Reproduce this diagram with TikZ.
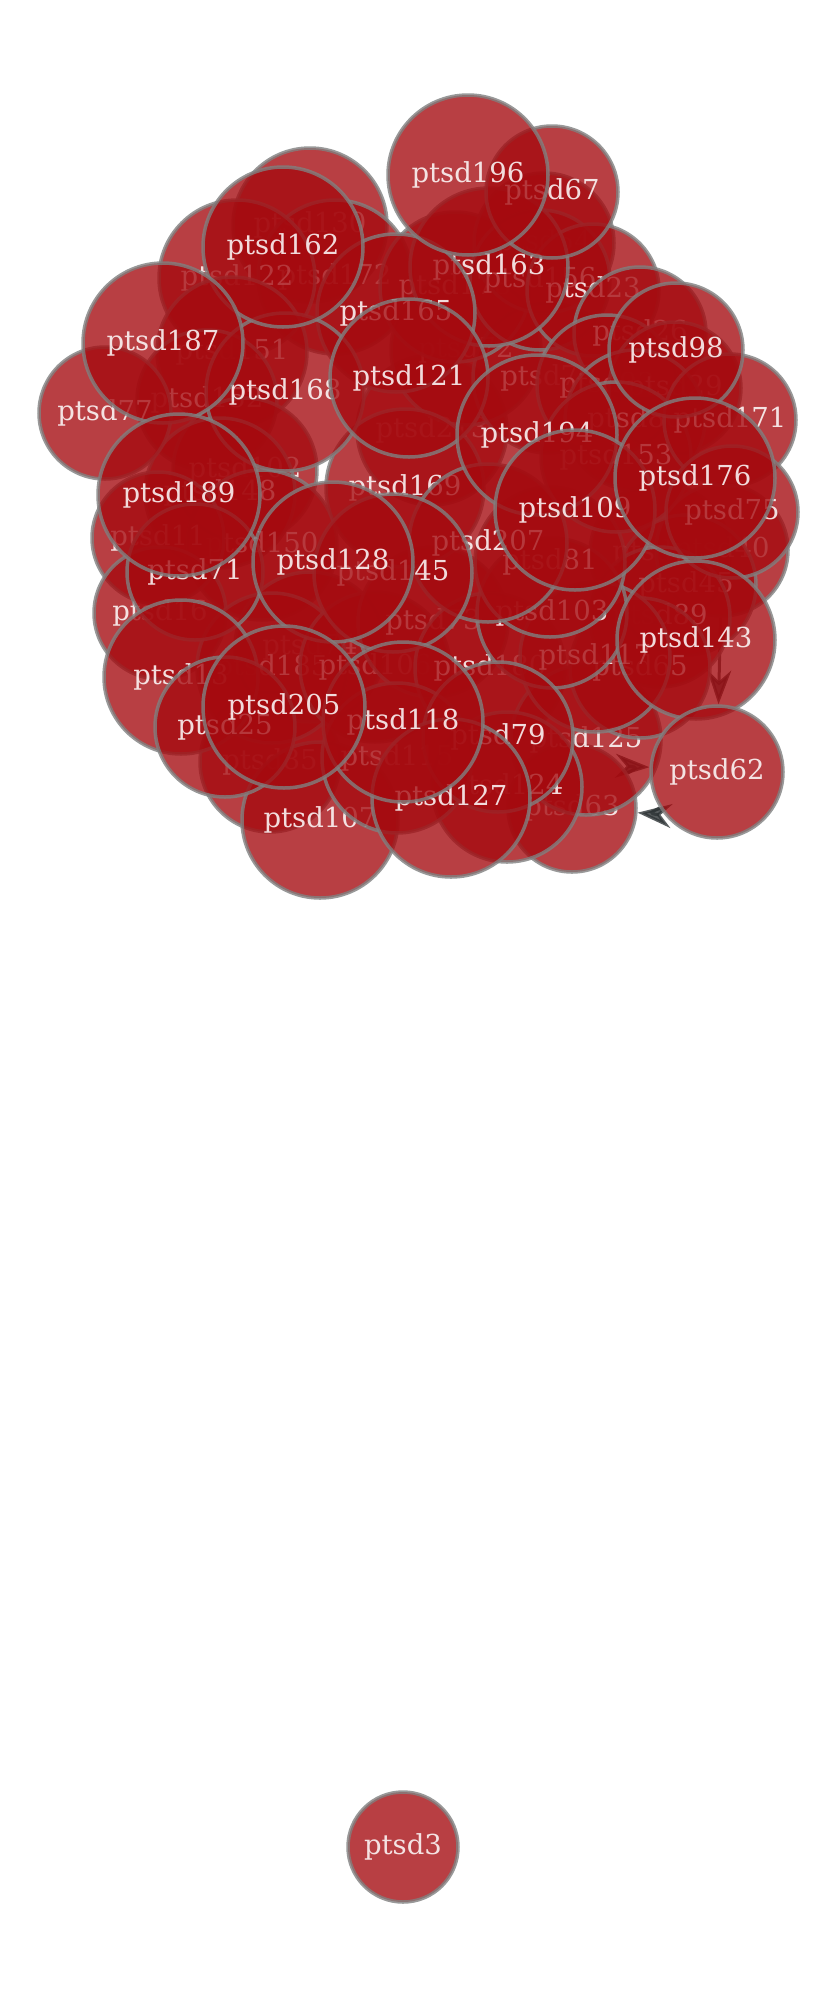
\documentclass[tikz,border=0pt]{standalone}
\usepackage{fontspec}
\setmainfont{DejaVu Serif}
\usetikzlibrary{arrows.meta,backgrounds}
\definecolor{vfill}{RGB}{165,10,15}
\definecolor{vline}{RGB}{128,128,128}
\definecolor{elink}{RGB}{46,52,54}

\begin{document}
\begin{tikzpicture}[x=1pt,y=-1pt,
    vtx/.style={circle,draw=vline,fill=vfill,line width=3.5pt,fill opacity=0.78,draw opacity=0.8,
        text=white,text opacity=0.85,inner sep=0pt,font=\fontsize{27.5}{30}\selectfont},
    link/.style={draw=elink,opacity=0.8,line width=3pt,-{Stealth[length=34pt,width=24pt]}}]
    \useasboundingbox (0,0) rectangle (838,2000);
    % buried vertices
    \foreach \n/\x/\y/\r in {130/310/225/77,172/335/277/77,122/237/278/78,151/232/352/75,
        152/207/400/70,102/245/470/72,148/220/493/75,150/262/545/75,11/158/538/66,
        16/160/613/66,85/270/762/70,107/320/820/78,74/310/647/75,185/272/668/75,
        106/375/667/75,73/433/622/75,180/490/668/75,63/572/808/64,125/586/740/75,
        124/507/787/75,115/397/758/75,64/660/553/70,40/722/550/66,45/686/585/70,
        89/660/617/70,65/640/668/70,117/595/657/75,103/552/613/75,81/550/562/75,
        213/432/430/75,72/466/350/75,70/548/378/75,178/455/287/75,54/544/243/70,
        156/540/280/70,23/593/290/66,26/640/333/66,93/607/385/70,29/675/388/66,
        86/635/420/70,153/616/457/75} {
        \node[vtx,minimum size=\r*2pt] (ptsd\n) at (\x,\y) {ptsd\n};
    }
    % half covered vertices
    \foreach \n/\x/\y/\r in {163/489/267/79,165/396/313/79,67/552/192/66,77/105/413/66,
        171/730/420/66,75/732/512/66,71/195/572/68,13/181/677/77,25/225/727/70,
        79/498/737/75,169/405/488/79,207/488/543/79,145/393/573/79,127/451/798/79,
        168/285/392/79} {
        \node[vtx,minimum size=\r*2pt] (ptsd\n) at (\x,\y) {ptsd\n};
    }
    % top vertices
    \foreach \n/\x/\y/\r in {196/468/175/80,162/283/247/80,187/163/343/80,121/409/378/79,
        98/676/350/67,194/537/435/80,109/575/510/80,176/695/478/80,189/179/495/81,
        128/333/562/80,143/696/640/79,118/403/722/80,205/284/707/81,62/717/772/66,
        3/403/1847/55} {
        \node[vtx,minimum size=\r*2pt] (ptsd\n) at (\x,\y) {ptsd\n};
    }
    \begin{pgfonlayer}{background}
        \fill[white] (0,0) rectangle (838,2000);
        \draw[link] (ptsd40) -- (ptsd62);
        \draw[link] (ptsd63) to[bend left=18] (ptsd62);
        \draw[link] (ptsd62) to[bend left=18] (ptsd63);
    \end{pgfonlayer}
\end{tikzpicture}
\end{document}
